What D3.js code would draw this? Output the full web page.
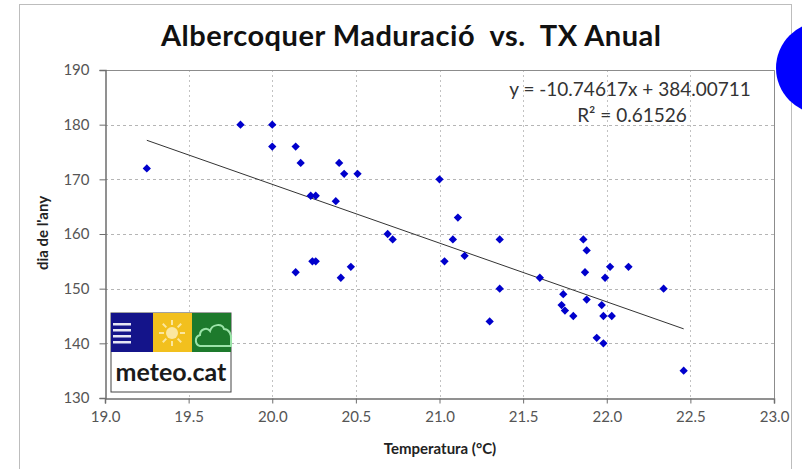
<!DOCTYPE html>
<html>
<head>
<meta charset="utf-8">
<script src="https://cdn.jsdelivr.net/npm/d3@7"></script>
<style>
  body { margin: 0; background: #fff; }
  svg { display: block; font-family: Lato, "Open Sans", sans-serif; }
</style>
</head>
<body>
<div id="vis"></div>
<script>

// temperatura maxima anual (x) i dia de maduracio (y)
var temps = [19.25, 19.81, 20.0, 20.0, 20.14, 20.17, 20.40, 20.43, 20.51, 20.23,
             20.26, 20.38, 20.14, 20.24, 20.26, 20.41, 20.47, 20.69, 20.72, 21.0,
             21.11, 21.08, 21.03, 21.15, 21.36, 21.36, 21.30, 21.60, 21.74, 21.73,
             21.75, 21.80, 21.86, 21.88, 21.87, 22.02, 22.13, 21.99, 22.34, 21.88,
             21.97, 21.98, 22.03, 21.94, 21.98, 22.46];
var days = [172, 180, 180, 176, 176, 173, 173, 171, 171, 167,
            167, 166, 153, 155, 155, 152, 154, 160, 159, 170,
            163, 159, 155, 156, 159, 150, 144, 152, 149, 147,
            146, 145, 159, 157, 153, 154, 154, 152, 150, 148,
            147, 145, 145, 141, 140, 135];

var xTicks = [19.0, 19.5, 20.0, 20.5, 21.0, 21.5, 22.0, 22.5, 23.0];
var yTicks = [130, 140, 150, 160, 170, 180, 190];

var slope = -10.74617;
var intercept = 384.00711;
var r2 = 0.61526;

var width = 802;
var height = 469;
var plot = { left: 105, right: 774, top: 70, bottom: 398 };

var svg = d3.select('#vis').append('svg')
  .attr('width', width)
  .attr('height', height);

// marc exterior
svg.append('rect')
  .attr('x', 19.5).attr('y', 4.5)
  .attr('width', 772).attr('height', 470)
  .attr('fill', '#fff')
  .attr('stroke', '#bdbdbd');

var x = d3.scaleLinear().domain([19, 23]).range([plot.left, plot.right]);
var y = d3.scaleLinear().domain([130, 190]).range([plot.bottom, plot.top]);

// grid
svg.append('g').selectAll('line')
  .data(yTicks.slice(1))
  .enter().append('line')
  .attr('x1', plot.left).attr('x2', plot.right)
  .attr('y1', function(d) { return Math.round(y(d)) + 0.5; })
  .attr('y2', function(d) { return Math.round(y(d)) + 0.5; })
  .attr('stroke', '#b5b5b5')
  .attr('stroke-dasharray', '3,3');

svg.append('g').selectAll('line')
  .data(xTicks.slice(1))
  .enter().append('line')
  .attr('y1', plot.top).attr('y2', plot.bottom)
  .attr('x1', function(d) { return Math.round(x(d)) + 0.5; })
  .attr('x2', function(d) { return Math.round(x(d)) + 0.5; })
  .attr('stroke', '#c2c2c2')
  .attr('stroke-dasharray', '2,3');

// vora de l'area de dibuix
svg.append('path')
  .attr('d', 'M' + plot.left + ',' + (plot.top + 0.5) + 'H' + (plot.right + 0.5) + 'V' + plot.bottom)
  .attr('fill', 'none')
  .attr('stroke', '#8c8c8c');

// eixos
var xAxis = svg.append('g')
  .attr('transform', 'translate(0,' + (plot.bottom + 0.5) + ')')
  .call(d3.axisBottom(x).tickValues(xTicks).tickFormat(d3.format('.1f')).tickSize(5).tickPadding(8));
var yAxis = svg.append('g')
  .attr('transform', 'translate(' + (plot.left + 0.5) + ',0)')
  .call(d3.axisLeft(y).tickValues(yTicks).tickSize(6).tickPadding(10));

[xAxis, yAxis].forEach(function(a) {
  a.select('.domain').attr('stroke', '#6e6e6e').attr('stroke-width', 1.5);
  a.selectAll('.tick line').attr('stroke', '#6e6e6e');
  a.selectAll('text')
    .attr('fill', '#555')
    .attr('font-size', 15)
    .attr('font-family', 'Lato, "Open Sans", sans-serif');
});

// recta de regressio
var xs = d3.extent(temps);
svg.append('line')
  .attr('x1', x(xs[0])).attr('y1', y(slope * xs[0] + intercept))
  .attr('x2', x(xs[1])).attr('y2', y(slope * xs[1] + intercept))
  .attr('stroke', '#333')
  .attr('stroke-width', 1);

// punts
var diamond = d3.symbol().type(d3.symbolDiamond2).size(44);
svg.append('g').selectAll('path')
  .data(temps)
  .enter().append('path')
  .attr('d', diamond)
  .attr('transform', function(d, i) { return 'translate(' + x(d) + ',' + y(days[i]) + ')'; })
  .attr('fill', '#0000cc');

// equacio
svg.append('text')
  .attr('x', 630).attr('y', 96)
  .attr('text-anchor', 'middle')
  .attr('font-size', 19)
  .attr('fill', '#333')
  .text('y = ' + slope.toFixed(5) + 'x + ' + intercept.toFixed(5));
svg.append('text')
  .attr('x', 632).attr('y', 122)
  .attr('text-anchor', 'middle')
  .attr('font-size', 19)
  .attr('fill', '#333')
  .text('R² = ' + r2.toFixed(5));

// titols
svg.append('text')
  .attr('x', 411).attr('y', 46)
  .attr('text-anchor', 'middle')
  .attr('font-size', 29)
  .attr('font-weight', 'bold')
  .attr('fill', '#111')
  .attr('textLength', 500)
  .attr('xml:space', 'preserve')
  .style('white-space', 'pre')
  .text('Albercoquer Maduració  vs.  TX Anual');

svg.append('text')
  .attr('x', 440).attr('y', 454)
  .attr('text-anchor', 'middle')
  .attr('font-size', 15)
  .attr('font-weight', 'bold')
  .attr('fill', '#222')
  .text('Temperatura (°C)');

svg.append('text')
  .attr('transform', 'translate(48,233) rotate(-90)')
  .attr('text-anchor', 'middle')
  .attr('font-size', 15)
  .attr('font-weight', 'bold')
  .attr('fill', '#222')
  .text("dia de l'any");

// logo meteo.cat
var logo = svg.append('g').attr('transform', 'translate(111,313)');
logo.append('rect').attr('width', 120).attr('height', 79).attr('fill', '#fff').attr('stroke', '#444');
logo.append('rect').attr('width', 42).attr('height', 39).attr('fill', '#14148a');
logo.append('rect').attr('x', 42).attr('width', 39).attr('height', 39).attr('fill', '#f2c01e');
logo.append('rect').attr('x', 81).attr('width', 39).attr('height', 39).attr('fill', '#1d7a2c');
[10, 16, 22, 28].forEach(function(d) {
  logo.append('rect').attr('x', 2).attr('y', d).attr('width', 18).attr('height', 2.5).attr('fill', '#e6e6f5');
});
logo.append('circle').attr('cx', 61).attr('cy', 20).attr('r', 6).attr('fill', '#fbe7a0');
d3.range(8).forEach(function(i) {
  var a = i * Math.PI / 4;
  logo.append('line')
    .attr('x1', 61 + 8 * Math.cos(a)).attr('y1', 20 + 8 * Math.sin(a))
    .attr('x2', 61 + 13 * Math.cos(a)).attr('y2', 20 + 13 * Math.sin(a))
    .attr('stroke', '#fbe7a0').attr('stroke-width', 2);
});
logo.append('path')
  .attr('d', 'M89,33 C84,32 83,24 89,22 C89,16 96,14 99,18 C101,11 111,10 113,16 C118,16 121,22 120,27 L120,33 Z')
  .attr('fill', 'none')
  .attr('stroke', '#9be3a8')
  .attr('stroke-width', 2);
logo.append('text')
  .attr('x', 60).attr('y', 68)
  .attr('text-anchor', 'middle')
  .attr('font-size', 25)
  .attr('font-weight', 'bold')
  .attr('fill', '#1a1a1a')
  .text('meteo.cat');

// cercle blau
svg.append('circle')
  .attr('cx', 822).attr('cy', 68).attr('r', 46)
  .attr('fill', '#0000ff');

</script>
</body>
</html>
